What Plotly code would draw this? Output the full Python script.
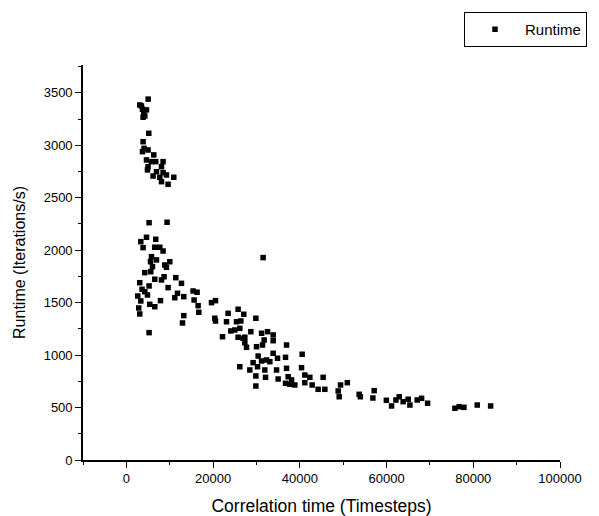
import plotly.graph_objects as go

# Correlation time (Timesteps) and Runtime (Iterations/s)
corr_time = [
    5024, 3485, 3720, 4642, 4249, 3857, 3092, 4014, 5171, 3857, 4083, 5004, 3720, 6318,
    4642, 5789, 6779, 8466, 5004, 8103, 4867, 6946, 8466, 6161, 7711, 9250, 10936, 8103, 9622,
    5240, 9387, 4642, 3328, 6779, 3857, 6554, 7711, 8466, 5789, 5563, 6946, 6024, 8858,
    10015, 9250, 4249, 5632, 6554, 8701, 8103, 11397, 12711, 3092, 5240, 3622, 4249, 9622,
    15388, 4867, 3328, 5397, 6554, 7867, 11789, 11172, 13241, 15623, 3092, 13241, 12946, 5240,
    2632, 2857,
    31537, 16310, 16545, 16702, 19633, 20555, 20398, 20555, 23467, 25771, 27085, 29860,
    23095, 25399, 26399, 24085, 25007, 26164, 28703, 22173, 25771, 27321, 31174, 32556,
    33851, 26928, 27321, 27713, 30017, 31772, 33851, 36939, 31399, 26164, 30389, 32321,
    33851, 34861, 36704, 40538, 29232, 31174, 33086, 28468, 30252, 31929, 34635, 36939,
    40400, 29860, 32096, 34998, 37312, 38096, 41155, 42312, 45381, 29860, 36704, 37704,
    38851, 41155, 42842, 44224, 45774, 48843, 49078,
    49392, 50960, 53686, 53961, 57147, 56843, 59961, 61158, 62158, 62913, 63834, 64991,
    65384, 67070, 68080, 69472, 75767, 76757, 77846, 80915, 84003,
]
runtime = [
    3440, 3375, 3343, 3337, 3279, 3267, 3384, 3317, 3114, 3034, 2971, 2955, 2939, 2908,
    2860, 2844, 2844, 2844, 2796, 2796, 2765, 2748, 2739, 2707, 2695, 2717, 2695, 2653, 2628,
    2262, 2266, 2123, 2081, 2104, 2024, 2028, 2028, 1992, 1938, 1890, 1907, 1843, 1859,
    1890, 1837, 1786, 1795, 1723, 1747, 1716, 1738, 1684, 1690, 1659, 1627, 1604, 1643,
    1611, 1573, 1516, 1484, 1461, 1519, 1589, 1547, 1557, 1525, 1392, 1376, 1306, 1214,
    1563, 1449,
    1929, 1599, 1471, 1408, 1500, 1519, 1351, 1325, 1398, 1437, 1389, 1351,
    1318, 1318, 1325, 1230, 1239, 1255, 1223, 1175, 1170, 1170, 1208, 1223,
    1192, 1160, 1118, 1074, 1080, 1144, 1137, 1096, 1096, 889, 991, 953,
    1017, 970, 979, 1008, 928, 944, 937, 858, 889, 858, 858, 874,
    880, 801, 788, 772, 794, 763, 810, 788, 788, 705, 731, 722,
    715, 737, 715, 674, 674, 658, 603,
    715, 737, 626, 603, 661, 591, 569, 515, 572, 603, 556, 579,
    524, 572, 588, 541, 493, 508, 502, 524, 515,
]

series_name = "Runtime"
x_title = "Correlation time (Timesteps)"
y_title = "Runtime (Iterations/s)"

fig = go.Figure()
fig.add_trace(go.Scatter(
    x=corr_time, y=runtime, mode="markers", name=series_name,
    marker=dict(symbol="square", size=5.5, color="black", line=dict(width=0)),
    showlegend=True,
))

font_family = "Liberation Sans, Arial, Helvetica, sans-serif"

fig.update_layout(
    width=599, height=516,
    margin=dict(l=83, r=39, t=65, b=56, autoexpand=False),
    paper_bgcolor="white", plot_bgcolor="white",
    font=dict(family=font_family, color="black", size=13),
    showlegend=True,
    legend=dict(
        x=(464 - 83) / 477, y=(460 - 12) / 395,
        xanchor="left", yanchor="top",
        bordercolor="black", borderwidth=1, bgcolor="white",
        font=dict(size=15, family=font_family),
        itemwidth=50, tracegroupgap=0,
    ),
)

fig.update_xaxes(
    range=[-10000, 100000], showgrid=False, zeroline=False, automargin=False,
    showline=True, linecolor="black", linewidth=1.6,
    ticks="outside", ticklen=6, tickwidth=1.3, tickcolor="black",
    tick0=0, dtick=20000, tickformat="d",
    minor=dict(ticks="outside", ticklen=3, tickwidth=1, tickcolor="black", dtick=10000, tick0=0),
    title=dict(text=x_title, font=dict(size=17.5), standoff=14),
    tickfont=dict(size=13),
)
fig.update_yaxes(
    range=[0, 3765], showgrid=False, zeroline=False, automargin=False,
    showline=True, linecolor="black", linewidth=1.6,
    ticks="outside", ticklen=6, tickwidth=1.3, tickcolor="black",
    tick0=0, dtick=500,
    minor=dict(ticks="outside", ticklen=3, tickwidth=1, tickcolor="black", dtick=250, tick0=0),
    title=dict(text=y_title, font=dict(size=16), standoff=14),
    tickfont=dict(size=13),
)

fig.write_html("out.html")
